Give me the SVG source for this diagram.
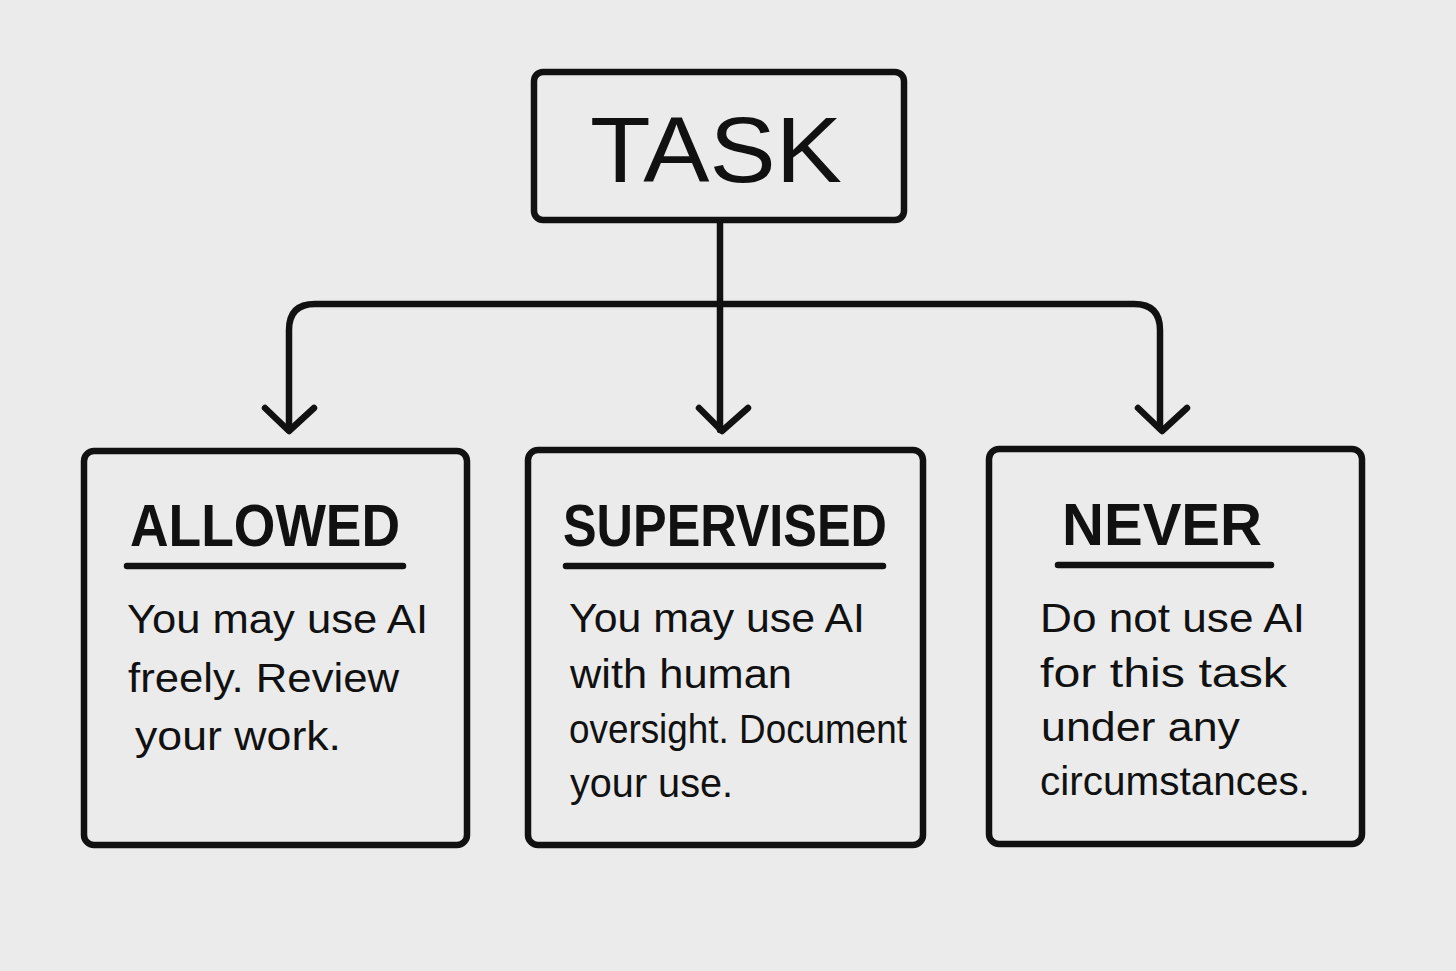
<svg xmlns="http://www.w3.org/2000/svg" width="1456" height="971" viewBox="0 0 1456 971">
<style>
.box{fill:none;stroke:#111;stroke-width:6.5;stroke-linejoin:round}
.ln{fill:none;stroke:#111;stroke-width:6.5;stroke-linecap:round;stroke-linejoin:round}
.ttl{font-family:"Liberation Sans",Arial,sans-serif;font-weight:bold;font-size:60px;fill:#111}
.body{font-family:"Liberation Sans",Arial,sans-serif;font-size:40px;fill:#111}
.task{font-family:"Liberation Sans",Arial,sans-serif;font-size:92px;fill:#111}
</style>
<rect width="1456" height="971" fill="#ebebeb"/>
<g id="task">
<rect class="box" x="534" y="72" width="370" height="148" rx="9"/>
<text class="task" x="590" y="182" textLength="252" lengthAdjust="spacingAndGlyphs">TASK</text>
</g>
<g id="connectors">
<path class="ln" d="M720 222 V430"/>
<path class="ln" d="M699 408 L722 431 L748 408"/>
<path class="ln" d="M289 428 V330 Q289 304 315 304 H1134 Q1160 304 1160 330 V428"/>
<path class="ln" d="M265 408 L289 431 L314 408"/>
<path class="ln" d="M1138 408 L1162 431 L1187 408"/>
</g>
<g id="allowed">
<rect class="box" x="84" y="451" width="383" height="394" rx="10"/>
<text class="ttl" x="130" y="546" textLength="270" lengthAdjust="spacingAndGlyphs">ALLOWED</text>
<path class="ln" d="M127 566 H403"/>
<text class="body" x="127" y="633" textLength="301" lengthAdjust="spacingAndGlyphs">You may use AI</text>
<text class="body" x="128" y="692" textLength="271" lengthAdjust="spacingAndGlyphs">freely. Review</text>
<text class="body" x="135" y="750" textLength="206" lengthAdjust="spacingAndGlyphs">your work.</text>
</g>
<g id="supervised">
<rect class="box" x="528" y="450" width="395" height="395" rx="10"/>
<text class="ttl" x="563" y="546" textLength="324" lengthAdjust="spacingAndGlyphs">SUPERVISED</text>
<path class="ln" d="M566 566 H883"/>
<text class="body" x="569" y="632" textLength="296" lengthAdjust="spacingAndGlyphs">You may use AI</text>
<text class="body" x="570" y="688" textLength="222" lengthAdjust="spacingAndGlyphs">with human</text>
<text class="body" x="569" y="743" textLength="338" lengthAdjust="spacingAndGlyphs">oversight. Document</text>
<text class="body" x="570" y="797" textLength="163" lengthAdjust="spacingAndGlyphs">your use.</text>
</g>
<g id="never">
<rect class="box" x="989" y="449" width="373" height="395" rx="10"/>
<text class="ttl" x="1062" y="545" textLength="200" lengthAdjust="spacingAndGlyphs">NEVER</text>
<path class="ln" d="M1058 565 H1271"/>
<text class="body" x="1040" y="632" textLength="265" lengthAdjust="spacingAndGlyphs">Do not use AI</text>
<text class="body" x="1040" y="687" textLength="247" lengthAdjust="spacingAndGlyphs">for this task</text>
<text class="body" x="1041" y="741" textLength="199" lengthAdjust="spacingAndGlyphs">under any</text>
<text class="body" x="1040" y="795" textLength="270" lengthAdjust="spacingAndGlyphs">circumstances.</text>
</g>
</svg>
